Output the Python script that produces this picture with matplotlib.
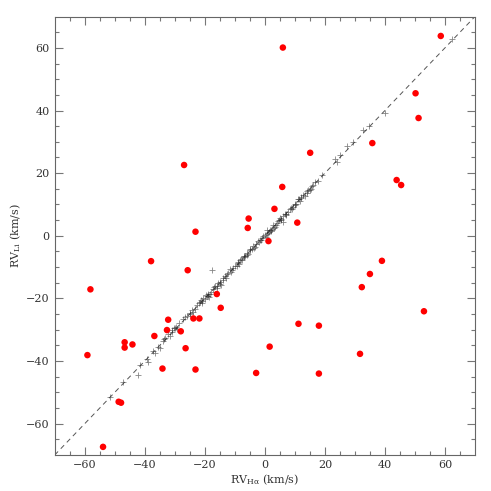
import matplotlib
matplotlib.use("Agg")
import matplotlib.pyplot as plt
import numpy as np

# outliers (red)
red_ha = [58.6, 6.0, 50.2, 51.2, 35.8, 15.1, -26.9, 43.9, 45.4, 5.8,
          3.2, -5.4, -5.7, -23.1, 10.8, 1.2, -37.9, 39.0, -25.7, 35.0,
          32.3, -58.1, -16.0, -14.7, 53.0, -32.2, -23.8, -21.8, 11.2, 18.0,
          -32.6, -28.0, -36.8, -46.7, -44.1, -46.7, -26.4, 1.6, 31.7, -59.1,
          -34.1, -23.1, -2.9, 18.0, -48.7, -47.9, -53.9]
red_li = [63.8, 60.1, 45.5, 37.6, 29.6, 26.5, 22.6, 17.8, 16.2, 15.6,
          8.6, 5.5, 2.5, 1.3, 4.2, -1.7, -8.1, -8.0, -11.0, -12.2,
          -16.4, -17.1, -18.6, -23.0, -24.1, -26.8, -26.4, -26.4, -28.1, -28.7,
          -30.1, -30.5, -32.0, -34.0, -34.7, -35.7, -35.9, -35.4, -37.7, -38.1,
          -42.4, -42.7, -43.8, -44.0, -53.0, -53.3, -67.4]

# consistent stars (plus signs)
blk_ha = [-51.7, -47.2, -42.2, -41.7, -39.4, -38.9, -37.2, -36.5, -35.6, -35.0,
          -33.9, -33.2, -32.2, -31.5, -30.8, -30.0, -29.2, -28.5, -27.2, -26.0,
          -25.0, -24.3, -23.8, -23.3, -22.6, -21.7, -21.0, -20.5, -20.0, -19.4,
          -19.0, -18.5, -18.0, -17.6, -17.2, -16.5, -16.0, -15.5, -15.0, -14.5,
          -14.0, -13.3, -12.8, -12.2, -11.7, -11.2, -10.6, -10.0, -9.4, -8.8,
          -8.3, -7.5, -7.0, -6.5, -6.1, -5.5, -5.0, -4.4, -3.9, -3.3,
          -2.8, -2.2, -1.7, -1.2, -0.6, 0.0, 0.3, 0.6, 1.0, 1.5,
          2.0, 2.5, 2.8, 3.3, 3.8, 4.3, 4.8, 5.0, 5.5, 6.1,
          6.1, 6.6, 7.2, 7.8, 8.3, 8.8, 9.4, 9.9, 10.5, 11.1,
          11.6, 12.2, 12.8, 13.3, 13.9, 14.4, 15.0, 15.6, 16.1, 16.7,
          17.8, 19.2, 23.3, 23.9, 25.0, 27.4, 29.2, 32.8, 34.8, 40.0,
          62.3,
          -33.6, -31.0, -29.6, -24.8, -22.0, -20.8, -19.7, -18.8, -16.8, -15.8,
          -13.8, -12.5, -10.8, -9.0, -7.8, -5.8, -4.8, -3.6, -1.9, -0.9,
          0.8, 1.8, 3.0, 4.0, 5.3, 7.0, 9.0, 10.2, 12.0, 14.0,
          -26.5, -21.3, -14.8, -6.8, 2.2, 11.4, 15.3, -30.4, -18.2, -8.6]
blk_li = [-51.5, -46.8, -44.6, -41.4, -39.3, -40.4, -36.7, -37.5, -35.6, -35.8,
          -33.5, -32.6, -31.4, -31.9, -30.2, -29.3, -29.8, -27.9, -26.6, -25.6,
          -25.0, -23.6, -24.2, -23.4, -22.1, -21.3, -21.4, -19.8, -20.3, -19.2,
          -18.5, -19.6, -17.8, -10.9, -17.1, -16.0, -16.8, -15.2, -14.9, -15.6,
          -13.6, -12.8, -13.5, -12.0, -10.7, -11.5, -10.3, -9.6, -9.8, -8.3,
          -7.6, -7.8, -6.6, -6.3, -5.4, -5.7, -4.7, -4.1, -3.3, -3.6,
          -2.5, -1.8, -1.2, -1.4, -0.2, 0.4, -0.3, 2.0, 0.8, 1.2,
          1.6, 2.2, 3.6, 2.9, 3.5, 4.6, 5.1, 5.7, 5.2, 6.3,
          4.3, 6.8, 7.0, 7.5, 8.6, 8.9, 9.1, 10.3, 10.2, 11.6,
          11.2, 12.4, 13.1, 12.8, 14.2, 14.7, 14.6, 15.8, 16.3, 17.1,
          17.6, 19.5, 24.5, 23.7, 25.8, 28.7, 30.1, 33.8, 34.9, 39.3,
          62.8,
          -32.9, -30.6, -29.0, -24.5, -21.6, -20.9, -19.0, -19.1, -16.4, -15.9,
          -14.1, -12.1, -11.0, -8.7, -7.3, -6.0, -4.3, -3.9, -2.1, -0.6,
          0.5, 1.9, 2.6, 4.2, 4.9, 6.7, 8.7, 9.8, 12.1, 13.5,
          -25.9, -20.6, -15.4, -6.9, 1.9, 11.9, 14.9, -29.6, -18.6, -8.9]

plt.rcParams['font.family'] = ['DejaVu Serif']
plt.rcParams['mathtext.fontset'] = 'dejavuserif'

fig = plt.figure(figsize=(4.91, 4.91), dpi=100)
ax = fig.add_axes([0.1114, 0.0733, 0.856, 0.893])

lim = [-70, 70]
ax.plot(lim, lim, color='#555555', lw=0.7, dashes=(5, 4), zorder=1)
ax.scatter(blk_ha, blk_li, marker='+', s=14, color='#222222', alpha=0.55,
           linewidths=0.6, zorder=2)
ax.scatter(red_ha, red_li, s=22, color='red', edgecolors='none', zorder=3)

ax.set_xlim(lim)
ax.set_ylim(lim)
ax.set_xticks([-60, -40, -20, 0, 20, 40, 60])
ax.set_yticks([-60, -40, -20, 0, 20, 40, 60])
ax.set_xticks(np.arange(-65, 70, 5), minor=True)
ax.set_yticks(np.arange(-65, 70, 5), minor=True)
ax.tick_params(which='both', direction='in', top=True, right=True,
               color='#777777', labelsize=8, labelcolor='#333333')
ax.tick_params(which='major', length=6, width=0.8)
ax.tick_params(which='minor', length=3, width=0.8)
for s in ax.spines.values():
    s.set_color('#666666')
    s.set_linewidth(0.8)

ax.set_xlabel(r'RV$_{\rm H\alpha}$ (km/s)', fontsize=8, color='#333333',
              labelpad=2)
ax.set_ylabel(r'RV$_{\rm Li}$ (km/s)', fontsize=8, color='#333333',
              labelpad=2)

plt.savefig('out.png', dpi=100)
